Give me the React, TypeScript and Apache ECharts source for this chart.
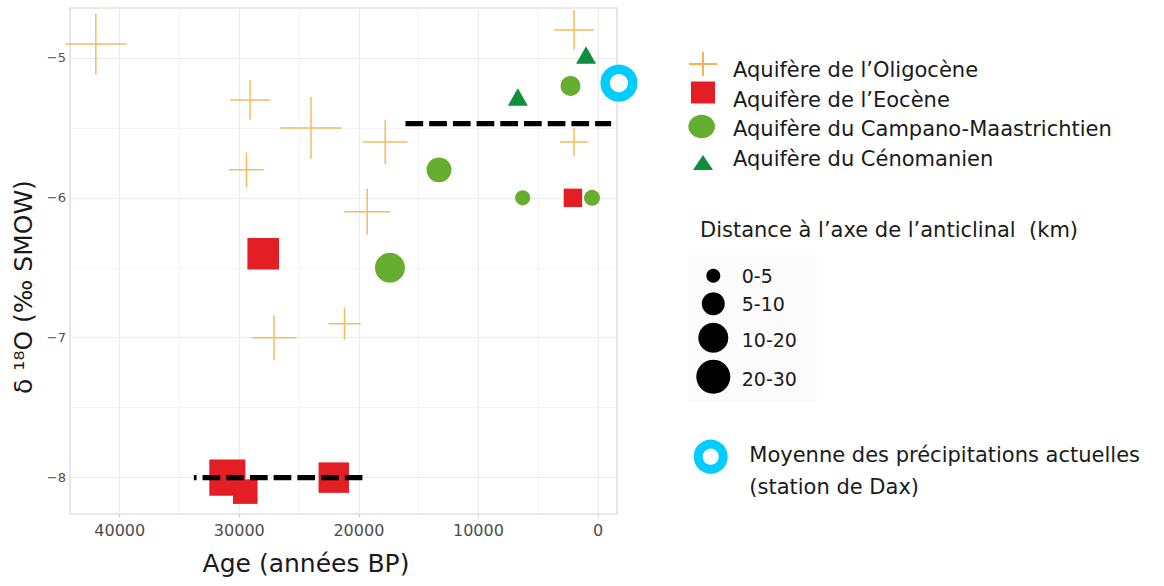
import React, { useEffect, useRef } from 'react';
import * as echarts from 'echarts';

const FONT = '"DejaVu Sans", "Liberation Sans", Arial, sans-serif';

// ---- Data ----
const oligoceneAge = [42000, 29100, 29400, 24000, 17800, 19300, 27100, 21200, 2000, 2000];
const oligoceneD18O = [-4.9, -5.3, -5.8, -5.5, -5.6, -6.1, -7.0, -6.9, -4.8, -5.6];
const oligoceneDist = [24.6, 7.0, 5.4, 25.5, 9.3, 10.2, 9.6, 4.6, 7.0, 3.5];

const eoceneAge = [28000, 2100, 31000, 29500, 22100];
const eoceneD18O = [-6.4, -6.0, -8.0, -8.1, -8.0];
const eoceneDist = [14.8, 4.4, 25, 7.7, 13.6];

const campanoAge = [2300, 13300, 6300, 500, 17400];
const campanoD18O = [-5.2, -5.8, -6.0, -6.0, -6.5];
const campanoDist = [5.8, 9.6, 3.1, 3.6, 15];

const cenomanienAge = [1000, 6700];
const cenomanienD18O = [-5.0, -5.3];
const cenomanienDist = [2.9, 2.9];

const daxAge = [-1750];
const daxD18O = [-5.18];

const meanRecentAge = [16100, -1100];
const meanRecentD18O = [-5.47, -5.47];
const meanEoceneAge = [19700, 33800];
const meanEoceneD18O = [-8.0, -8.0];

const xTicks = [40000, 30000, 20000, 10000, 0];
const xMinor = [35000, 25000, 15000, 5000];
const yTicks = [-8, -7, -6, -5];
const yMinor = [-7.5, -6.5, -5.5];

const seriesNames = [
  'Aquifère de l\u2019Oligocène',
  'Aquifère de l\u2019Eocène',
  'Aquifère du Campano-Maastrichtien',
  'Aquifère du Cénomanien',
];
const sizeTitle = 'Distance à l\u2019axe de l\u2019anticlinal  (km)';
const sizeClasses = ['0-5', '5-10', '10-20', '20-30'];
const sizeClassMid = [2.5, 7.5, 15, 25];
const daxLabel = ['Moyenne des précipitations actuelles', '(station de Dax)'];

// size scale: distance (km) -> circle diameter (px)
const sizeBreaks = [0, 2.5, 7.5, 15, 25, 30];
const sizeDiam = [10, 14, 23, 30, 34, 36];
function diam(km: number): number {
  for (let i = 1; i < sizeBreaks.length; i++) {
    if (km <= sizeBreaks[i]) {
      const t = (km - sizeBreaks[i - 1]) / (sizeBreaks[i] - sizeBreaks[i - 1]);
      return sizeDiam[i - 1] + t * (sizeDiam[i] - sizeDiam[i - 1]);
    }
  }
  return sizeDiam[sizeDiam.length - 1];
}

const zip3 = (a: number[], b: number[], c: number[]) => a.map((v, i) => [v, b[i], c[i]]);
const zip2 = (a: number[], b: number[]) => a.map((v, i) => [v, b[i]]);

const ORANGE = '#F8B24E';
const RED = '#E31E24';
const GREEN = '#66AE2F';
const DKGREEN = '#0E8F3E';
const BLUE = '#00CCFF';
const TXT = '#1a1a1a';
const CROSS = 'path://M0,-1L0,1M-1,0L1,0';

export default function App() {
  const ref = useRef<HTMLDivElement>(null);
  useEffect(() => {
    if (!ref.current) return;
    const chart = echarts.init(ref.current, undefined, { renderer: 'svg' });

    const gridLine = (axis: 'xAxis' | 'yAxis', v: number, major: boolean) => ({
      [axis]: v,
      lineStyle: { color: major ? '#ebebeb' : '#f3f3f3', width: major ? 1.1 : 0.8, type: 'solid' },
    });

    const legendYs = [70, 99.5, 129, 158.5];
    const sizeCircleYs = [275.7, 303.7, 337.7, 376.7];
    const sizeLabelYs = [276, 304, 340, 379];

    const graphic: any[] = [
      // axis titles
      {
        type: 'text', x: 306, y: 563,
        style: { text: 'Age (années BP)', fontFamily: FONT, fontSize: 25, fill: TXT, align: 'center', verticalAlign: 'middle' },
      },
      {
        type: 'text', x: 23, y: 287, rotation: Math.PI / 2,
        style: { text: 'δ \u00B9\u2078O (\u2030 SMOW)', fontFamily: FONT, fontSize: 25, fill: TXT, align: 'center', verticalAlign: 'middle' },
      },
      // shape legend symbols
      { type: 'line', shape: { x1: 689, y1: 64, x2: 717, y2: 64 }, style: { stroke: ORANGE, lineWidth: 2 } },
      { type: 'line', shape: { x1: 703, y1: 52, x2: 703, y2: 76 }, style: { stroke: ORANGE, lineWidth: 2 } },
      { type: 'rect', shape: { x: 691, y: 81.5, width: 24, height: 22 }, style: { fill: RED } },
      { type: 'ellipse', shape: { cx: 701.7, cy: 126.5, rx: 13.3, ry: 11.7 }, style: { fill: GREEN } },
      { type: 'polygon', shape: { points: [[693, 170], [713, 170], [703, 155]] }, style: { fill: DKGREEN } },
      ...seriesNames.map((n, i) => ({
        type: 'text', x: 733, y: legendYs[i],
        style: { text: n, fontFamily: FONT, fontSize: 21, fill: TXT, verticalAlign: 'middle' },
      })),
      // size legend
      { type: 'rect', shape: { x: 688, y: 255, width: 129, height: 147 }, style: { fill: '#fbfbfb' } },
      {
        type: 'text', x: 700, y: 230,
        style: { text: sizeTitle, fontFamily: FONT, fontSize: 21, fill: TXT, verticalAlign: 'middle' },
      },
      ...sizeClassMid.map((m, i) => ({
        type: 'circle', shape: { cx: 713.3, cy: sizeCircleYs[i], r: diam(m) / 2 }, style: { fill: '#000' },
      })),
      ...sizeClasses.map((c, i) => ({
        type: 'text', x: 741.7, y: sizeLabelYs[i],
        style: { text: c, fontFamily: FONT, fontSize: 19, fill: TXT, verticalAlign: 'middle' },
      })),
      // Dax legend
      { type: 'circle', shape: { cx: 710.7, cy: 456.7, r: 12.5 }, style: { fill: '#fff', stroke: BLUE, lineWidth: 9 } },
      ...daxLabel.map((t, i) => ({
        type: 'text', x: 749.3, y: i === 0 ? 455 : 486.7,
        style: { text: t, fontFamily: FONT, fontSize: 21, fill: TXT, verticalAlign: 'middle' },
      })),
    ];

    const option: any = {
      animation: false,
      backgroundColor: '#fff',
      textStyle: { fontFamily: FONT },
      grid: {
        left: 70, top: 8, width: 547, height: 506,
        show: true, borderColor: '#d4d4d4', borderWidth: 1.2, backgroundColor: '#fff',
      },
      xAxis: {
        type: 'value', inverse: true, min: -1590, max: 44160,
        axisLine: { show: false },
        axisTick: { show: true, length: 3, lineStyle: { color: '#c8c8c8' }, customValues: xTicks },
        axisLabel: {
          customValues: xTicks, color: '#4d4d4d', fontSize: 16, fontFamily: FONT, margin: 8,
          formatter: (v: number) => String(Math.round(v)),
        },
        splitLine: { show: false },
      },
      yAxis: {
        type: 'value', min: -8.26, max: -4.643,
        axisLine: { show: false },
        axisTick: { show: true, length: 3, lineStyle: { color: '#c8c8c8' }, customValues: yTicks },
        axisLabel: {
          customValues: yTicks, color: '#4d4d4d', fontSize: 13, fontFamily: FONT, margin: 4,
          formatter: (v: number) => (v < 0 ? '\u2212' + Math.abs(v) : String(v)),
        },
        splitLine: { show: false },
      },
      series: [
        {
          type: 'scatter', data: [], z: 1, silent: true,
          markLine: {
            z: 1, zlevel: 0,
            silent: true, symbol: ['none', 'none'], label: { show: false }, emphasis: { disabled: true },
            data: [
              ...xMinor.map((v) => gridLine('xAxis', v, false)),
              ...yMinor.map((v) => gridLine('yAxis', v, false)),
              ...xTicks.map((v) => gridLine('xAxis', v, true)),
              ...yTicks.map((v) => gridLine('yAxis', v, true)),
            ],
          },
        },
        {
          name: seriesNames[0], type: 'scatter', z: 3, silent: true,
          data: zip3(oligoceneAge, oligoceneD18O, oligoceneDist),
          symbol: CROSS,
          symbolSize: (val: number[]) => { const d = diam(val[2]) * 1.8; return [d, d]; },
          itemStyle: { color: 'rgba(0,0,0,0)', borderColor: ORANGE, borderWidth: 1.5, opacity: 0.9 },
        },
        {
          name: seriesNames[1], type: 'scatter', z: 4, silent: true,
          data: zip3(eoceneAge, eoceneD18O, eoceneDist),
          symbol: 'rect',
          symbolSize: (val: number[]) => diam(val[2]) * 1.06,
          itemStyle: { color: RED, opacity: 1 },
        },
        {
          name: seriesNames[2], type: 'scatter', z: 5, silent: true,
          data: zip3(campanoAge, campanoD18O, campanoDist),
          symbol: 'circle',
          symbolSize: (val: number[]) => diam(val[2]),
          itemStyle: { color: GREEN, opacity: 1 },
        },
        {
          name: seriesNames[3], type: 'scatter', z: 5, silent: true,
          data: zip3(cenomanienAge, cenomanienD18O, cenomanienDist),
          symbol: 'triangle',
          symbolSize: (val: number[]) => [diam(val[2]) * 1.35, diam(val[2]) * 1.19],
          symbolOffset: [0, '-17%'],
          itemStyle: { color: DKGREEN, opacity: 1 },
        },
        {
          type: 'line', z: 6, silent: true, symbol: 'none',
          data: zip2(meanRecentAge, meanRecentD18O),
          lineStyle: { color: '#000', width: 5.3, type: [17.7, 6], cap: 'butt' },
        },
        {
          type: 'line', z: 6, silent: true, symbol: 'none',
          data: zip2(meanEoceneAge, meanEoceneD18O),
          lineStyle: { color: '#000', width: 5.3, type: [17.7, 6], cap: 'butt' },
        },
        {
          name: 'Moyenne des précipitations actuelles', type: 'scatter', z: 7, silent: true, clip: false,
          data: zip2(daxAge, daxD18O),
          symbol: 'circle', symbolSize: 27.5,
          itemStyle: { color: '#fff', borderColor: BLUE, borderWidth: 9.5, opacity: 1 },
        },
      ],
      graphic,
    };
    chart.setOption(option);
    return () => chart.dispose();
  }, []);
  return <div ref={ref} style={{ position: 'fixed', left: 0, top: 0, width: 1164, height: 586 }} />;
}
